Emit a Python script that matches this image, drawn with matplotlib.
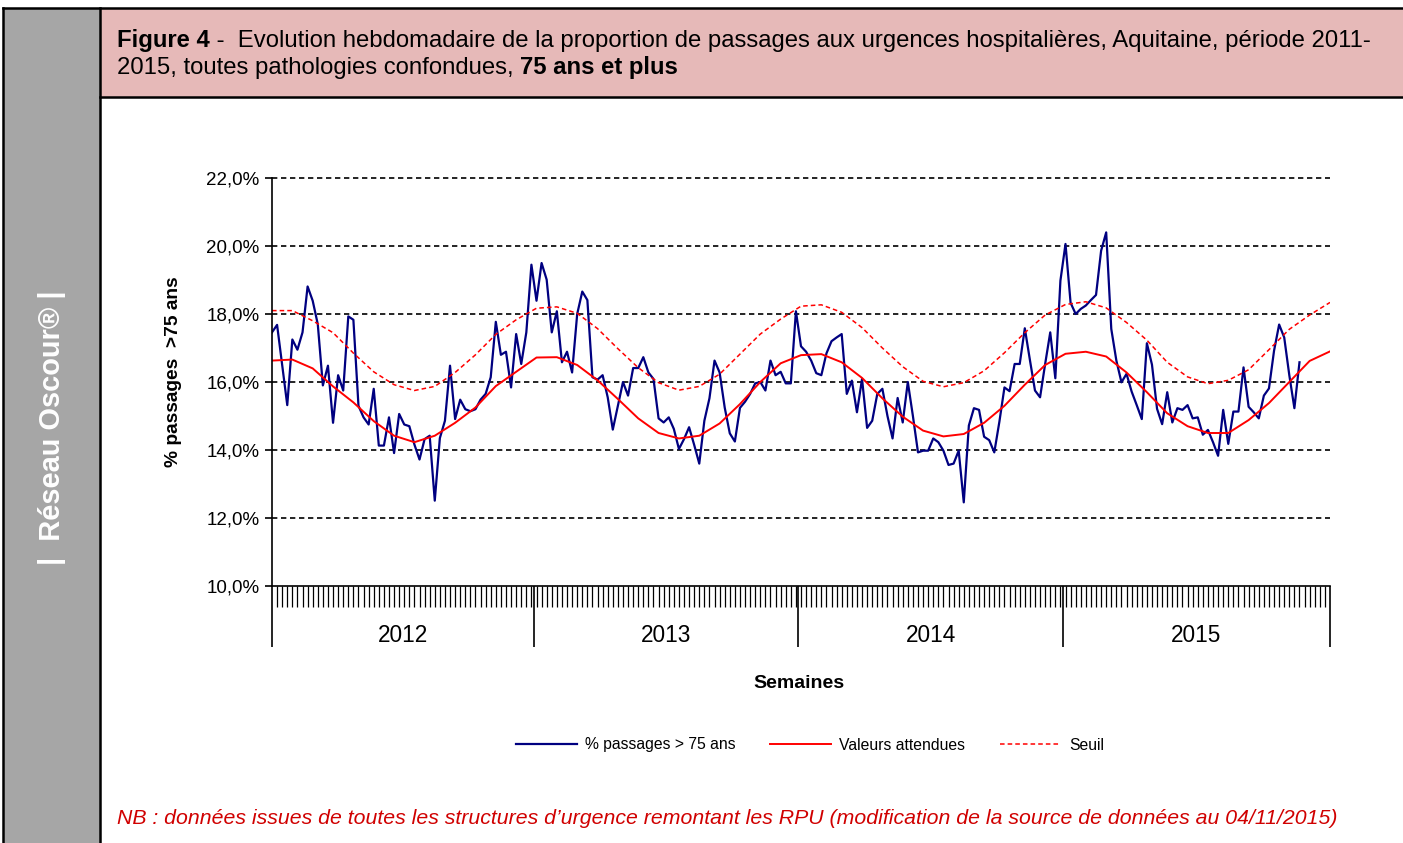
import matplotlib
matplotlib.use('Agg')
import matplotlib.pyplot as plt
from matplotlib.patches import Rectangle
from matplotlib.lines import Line2D

plt.rcParams['font.family'] = ['Liberation Sans', 'DejaVu Sans']

W, H = 1403, 843

# % passages > 75 ans, une valeur par semaine (2012 S1 -> 2015 S45)
passages_75 = [
    17.46, 17.68, 16.50, 15.32, 17.25, 16.95, 17.46, 18.81, 18.39, 17.70,
    15.90, 16.48, 14.80, 16.20, 15.75, 17.93, 17.83, 15.30, 14.96, 14.75,
    15.80, 14.13, 14.13, 14.96, 13.91, 15.06, 14.75, 14.70, 14.16, 13.72,
    14.32, 14.42, 12.51, 14.35, 14.86, 16.48, 14.91, 15.48, 15.20, 15.14,
    15.20, 15.48, 15.65, 16.14, 17.77, 16.80, 16.89, 15.84, 17.41, 16.53,
    17.46, 19.45, 18.39, 19.50, 19.01, 17.46, 18.08, 16.58, 16.89, 16.28,
    18.00, 18.66, 18.41, 16.14, 16.07, 16.20, 15.55, 14.60, 15.30, 16.00,
    15.60, 16.41, 16.41, 16.73, 16.28, 16.09, 14.93, 14.81, 14.96, 14.62,
    14.03, 14.32, 14.67, 14.15, 13.60, 14.86, 15.52, 16.63, 16.28, 15.25,
    14.49, 14.25, 15.24, 15.42, 15.65, 15.96, 16.00, 15.75, 16.63, 16.20,
    16.30, 15.96, 15.96, 18.08, 17.05, 16.89, 16.63, 16.26, 16.20, 16.84,
    17.20, 17.31, 17.41, 15.65, 16.04, 15.11, 16.09, 14.65, 14.86, 15.65,
    15.80, 15.00, 14.34, 15.53, 14.81, 16.00, 15.00, 13.93, 13.98, 13.98,
    14.34, 14.23, 13.98, 13.56, 13.60, 13.98, 12.46, 14.72, 15.23, 15.18,
    14.39, 14.29, 13.93, 14.83, 15.84, 15.73, 16.53, 16.53, 17.58, 16.65,
    15.75, 15.55, 16.53, 17.46, 16.11, 18.98, 20.06, 18.33, 18.00, 18.15,
    18.25, 18.41, 18.56, 19.86, 20.40, 17.56, 16.63, 15.99, 16.24, 15.72,
    15.32, 14.91, 17.14, 16.51, 15.21, 14.76, 15.70, 14.81, 15.23, 15.18,
    15.32, 14.93, 14.96, 14.45, 14.59, 14.23, 13.83, 15.18, 14.18, 15.13,
    15.13, 16.43, 15.27, 15.11, 14.93, 15.60, 15.81, 16.92, 17.69, 17.31,
    16.20, 15.23, 16.58,
]

# valeurs attendues et seuil, relevées toutes les 4 semaines
sem_courbes = list(range(0, 209, 4))
attendues = [
    16.63, 16.66, 16.40, 15.87, 15.40, 14.85, 14.42, 14.23, 14.42, 14.80, 15.25, 15.88, 16.30,
    16.72, 16.73, 16.50, 16.05, 15.50, 14.93, 14.50, 14.34, 14.42, 14.78, 15.35, 16.00, 16.55,
    16.79, 16.82, 16.58, 16.12, 15.52, 14.98, 14.57, 14.40, 14.47, 14.80, 15.30, 15.92, 16.50,
    16.83, 16.89, 16.75, 16.28, 15.70, 15.08, 14.70, 14.50, 14.50, 14.88, 15.38, 16.00, 16.62, 16.90,
]
seuil = [
    18.10, 18.10, 17.80, 17.45, 16.85, 16.30, 15.92, 15.75, 15.87, 16.28, 16.80, 17.40, 17.83,
    18.17, 18.21, 18.02, 17.57, 16.98, 16.42, 15.98, 15.76, 15.87, 16.23, 16.82, 17.41, 17.85,
    18.23, 18.27, 18.05, 17.60, 17.00, 16.45, 16.02, 15.86, 15.98, 16.33, 16.86, 17.45, 17.97,
    18.28, 18.36, 18.18, 17.75, 17.23, 16.58, 16.15, 15.95, 16.05, 16.36, 16.95, 17.55, 17.97, 18.34,
]

annees = ['2012', '2013', '2014', '2015']
limites_annees = [0, 51.5, 103.5, 155.5, 208]
yticks = [10, 12, 14, 16, 18, 20, 22]
ytick_labels = ['10,0%', '12,0%', '14,0%', '16,0%', '18,0%', '20,0%', '22,0%']


def fx(x):
    return x / W


def fy(y):
    return 1 - y / H


fig = plt.figure(figsize=(W / 100, H / 100), dpi=100)

# bandeau gauche et en-tete
fig.add_artist(Rectangle((fx(3), 0), fx(100) - fx(3), fy(8), transform=fig.transFigure,
                         facecolor='#a6a6a6', edgecolor='none', zorder=0))
fig.add_artist(Rectangle((fx(100), fy(97)), 1 - fx(100), fy(8) - fy(97), transform=fig.transFigure,
                         facecolor='#e6b9b8', edgecolor='none', zorder=0))
for xs, ys in [([3, W], [8, 8]), ([3, 3], [8, H]), ([100, 100], [8, H]), ([100, W], [97, 97])]:
    fig.add_artist(Line2D([fx(v) for v in xs], [fy(v) for v in ys], transform=fig.transFigure,
                          color='black', lw=1.8))

fig.text(fx(52), fy(428), '|  Réseau Oscour® |', rotation=90, color='white',
         fontweight='bold', fontsize=20.9, ha='center', va='center')

ax = fig.add_axes([fx(272), fy(586), (1330 - 272) / W, (586 - 178) / H])

# titre
t1 = fig.text(fx(117), fy(41), 'Figure 4', fontsize=17.2, fontweight='bold', va='center')
ax.annotate(' -  Evolution hebdomadaire de la proportion de passages aux urgences hospitalières, '
            'Aquitaine, période 2011-', xy=(1, 0), xycoords=t1, va='bottom', fontsize=17.2)
t3 = fig.text(fx(117), fy(68), '2015, toutes pathologies confondues, ', fontsize=17.2, va='center')
ax.annotate('75 ans et plus', xy=(1, 0), xycoords=t3, va='bottom', fontsize=17.2, fontweight='bold')

# courbes
ax.plot(range(len(passages_75)), passages_75, color='#000080', lw=1.6, label='% passages > 75 ans')
ax.plot(sem_courbes, attendues, color='#ff0000', lw=1.4, label='Valeurs attendues')
ax.plot(sem_courbes, seuil, color='#ff0000', lw=1.1, ls=(0, (3, 2)), label='Seuil')

for v in yticks[1:]:
    ax.axhline(v, color='black', lw=1.2, ls=(0, (3.2, 2.2)), zorder=0.5, clip_on=False)

ax.set_xlim(0, 208)
ax.set_ylim(10, 22)
ax.set_yticks(yticks)
ax.set_yticklabels(ytick_labels, fontsize=13.5)
ax.tick_params(axis='y', length=5, width=1.2, pad=4)

ax.set_xticks(limites_annees)
ax.set_xticklabels([])
ax.set_xticks(range(0, 209), minor=True)
ax.tick_params(axis='x', which='major', length=44, width=1.2, direction='out')
ax.tick_params(axis='x', which='minor', length=15, width=0.9, direction='out')

for i, an in enumerate(annees):
    ax.annotate(an, xy=((limites_annees[i] + limites_annees[i + 1]) / 2, 0),
                xycoords=('data', 'axes fraction'), xytext=(0, -36), textcoords='offset points',
                ha='center', va='center', fontsize=16.3)

for s in ['top', 'right']:
    ax.spines[s].set_visible(False)
ax.spines['left'].set_linewidth(1.2)
ax.spines['bottom'].set_linewidth(1.2)

fig.text(fx(173), fy(372), '% passages  >75 ans', rotation=90, ha='center', va='center',
         fontsize=13.8, fontweight='bold')
fig.text(fx(799), fy(683), 'Semaines', ha='center', va='center', fontsize=14, fontweight='bold')

fig.legend(loc='center', bbox_to_anchor=(fx(810), fy(745)), ncol=3, frameon=False,
           fontsize=11.3, handlelength=3.9, columnspacing=2.2, handletextpad=0.5)

fig.text(fx(117), fy(818), 'NB : données issues de toutes les structures d’urgence remontant les RPU '
         '(modification de la source de données au 04/11/2015)',
         color='#d00000', style='italic', fontsize=15.3, va='center')

fig.savefig('out.png', dpi=100)
